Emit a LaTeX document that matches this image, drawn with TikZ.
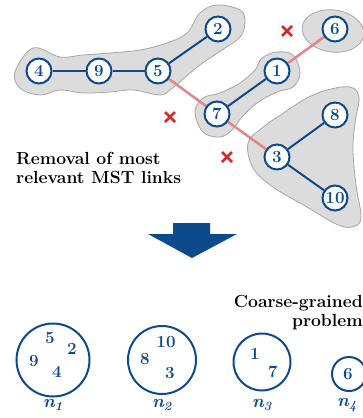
\documentclass[tikz,border=0pt]{standalone}
\usetikzlibrary{shapes.geometric}
\definecolor{nblue}{HTML}{0D4A8C}
\definecolor{redl}{HTML}{E3858A}
\definecolor{redx}{HTML}{D42A2A}
\definecolor{blobfill}{HTML}{DCDCDC}
\definecolor{blobdraw}{HTML}{A6A6A6}
\pgfdeclarelayer{blobs}
\pgfdeclarelayer{edges}
\pgfsetlayers{blobs,edges,main}
\tikzset{
  mstnode/.style={circle, draw=nblue, line width=2pt, fill=white, minimum size=25pt, inner sep=0pt, text=nblue, font=\bfseries\fontsize{17}{17}\selectfont},
  blob/.style={fill=blobfill, draw=blobdraw, line width=0.8pt},
  keep/.style={draw=nblue, line width=2pt},
  cut/.style={draw=redl, line width=2.5pt},
  crossmark/.style={draw=redx, line width=2.6pt},
  group/.style={circle, draw=nblue, line width=2pt, inner sep=0pt},
  member/.style={text=nblue, font=\bfseries\fontsize{17}{17}\selectfont, inner sep=0pt},
  glabel/.style={text=nblue, font=\bfseries\itshape\fontsize{18}{18}\selectfont, inner sep=0pt},
  caption/.style={font=\bfseries\fontsize{17.5}{19}\selectfont, inner sep=0pt, align=left}
}
\begin{document}
\begin{tikzpicture}[x=1pt,y=-1pt]
\useasboundingbox (0,0) rectangle (362,418);
% blobs
\begin{pgfonlayer}{blobs}
\path[blob] plot[smooth cycle, tension=0.6] coordinates {(15,72) (33,48) (60,57) (83,55) (110,53) (140,50) (167,43) (187,33) (200,13) (217,5) (240,10) (245,22) (240,37) (222,50) (200,65) (182,80) (170,90) (160,95) (133,90) (110,92) (83,93) (60,90) (40,95) (20,88)};
\path[blob] plot[smooth cycle, tension=0.6] coordinates {(195,112) (203,98) (220,93) (240,83) (255,70) (262,58) (277,52) (293,55) (300,73) (293,87) (277,92) (257,103) (242,117) (232,130) (220,137) (203,132)};
\path[blob] (333,31) ellipse[x radius=31, y radius=21, rotate=-8];
\path[blob] plot[smooth cycle, tension=0.6] coordinates {(248,143) (262,128) (285,112) (307,98) (327,90) (350,87) (359,97) (355,123) (353,150) (356,185) (361,218) (352,227) (336,224) (307,207) (273,187) (253,168)};
\end{pgfonlayer}
% nodes
\node[mstnode] (n4) at (39,71) {4};
\node[mstnode] (n9) at (99,71) {9};
\node[mstnode] (n5) at (158,71) {5};
\node[mstnode] (n2) at (218,29) {2};
\node[mstnode] (n1) at (277,71) {1};
\node[mstnode] (n6) at (335,29) {6};
\node[mstnode] (n7) at (217,114) {7};
\node[mstnode] (n3) at (277,157) {3};
\node[mstnode] (n8) at (335,115) {8};
\node[mstnode] (n10) at (335,198) {10};
% edges
\begin{pgfonlayer}{edges}
\path[cut] (n5.center) -- (n7.center);
\path[cut] (n7.center) -- (n3.center);
\path[cut] (n1.center) -- (n6.center);
\path[keep] (n4) -- (n9);
\path[keep] (n9) -- (n5);
\path[keep] (n5) -- (n2);
\path[keep] (n7) -- (n1);
\path[keep] (n3) -- (n8);
\path[keep] (n3) -- (n10);
\end{pgfonlayer}
% crosses
\foreach \cx/\cy in {287/31, 170/117, 227/157}{
  \draw[crossmark] (\cx-5,\cy-5) -- (\cx+5,\cy+5) (\cx-5,\cy+5) -- (\cx+5,\cy-5);
}
% caption
\node[caption, anchor=base west] (cap1) at (16,164) {Removal of most};
\node[caption, anchor=base west] (cap2) at (16,183) {relevant MST links};
% arrow
\fill[nblue] (173,223) -- (210,223) -- (210,234) -- (237,234) -- (192,258) -- (148,234) -- (173,234) -- cycle;
% coarse-grained text
\node[caption, anchor=base east] (cg1) at (363,307) {Coarse-grained};
\node[caption, anchor=base east] (cg2) at (363,326) {problem};
% groups
\node[group, minimum size=73pt] (g1) at (53,360) {};
\node[member] (m5) at (50,338) {5};
\node[member] (m2) at (72,349) {2};
\node[member] (m9) at (34,361) {9};
\node[member] (m4) at (57,372) {4};
\node[group, minimum size=68pt] (g2) at (162,360) {};
\node[member] (m10) at (166,342) {10};
\node[member] (m8) at (145,359) {8};
\node[member] (m3) at (170,373) {3};
\node[group, minimum size=57pt] (g3) at (262,362) {};
\node[member] (m1) at (255,354) {1};
\node[member] (m7) at (273,372) {7};
\node[group, minimum size=34pt] (g4) at (349,374) {};
\node[member] (m6) at (348,374) {6};
\node[glabel] (l1) at (53,405) {n\textsubscript{1}};
\node[glabel] (l2) at (162,405) {n\textsubscript{2}};
\node[glabel] (l3) at (262,405) {n\textsubscript{3}};
\node[glabel] (l4) at (347,405) {n\textsubscript{4}};
\end{tikzpicture}
\end{document}
